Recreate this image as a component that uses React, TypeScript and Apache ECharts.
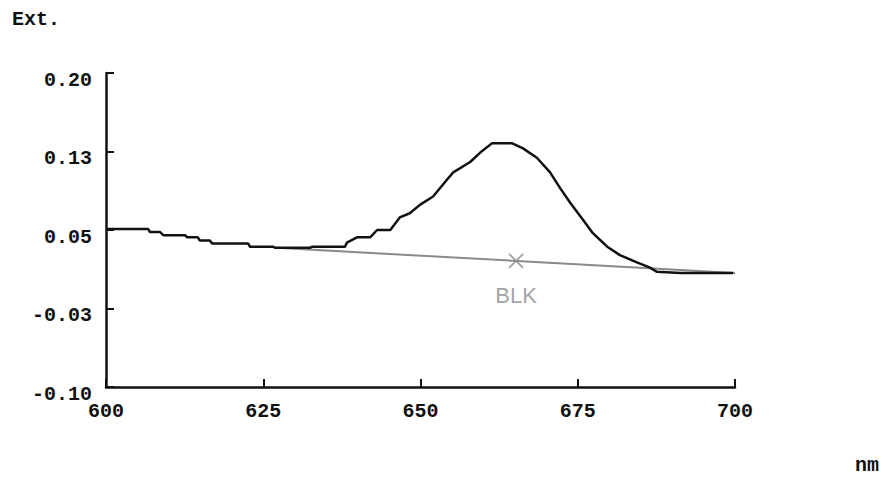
import React, { useEffect, useRef } from "react";
import * as echarts from "echarts";

const wavelengths = [
  600.2, 606.7, 607.0, 608.6, 609.1, 612.6, 612.9, 614.6, 614.9, 616.5, 616.9, 622.6,
  622.9, 626.6, 626.9, 632.4, 632.8, 638.0, 638.3, 639.9, 642.0, 643.1, 645.2, 646.7,
  648.3, 649.9, 652.0, 654.2, 655.2, 657.9, 659.5, 661.4, 664.5, 666.3, 668.5, 670.6,
  672.2, 673.8, 675.8, 677.4, 679.7, 681.7, 684.4, 686.5, 687.6, 691.3, 699.7,
];
const extinction = [
  0.051, 0.051, 0.048, 0.048, 0.045, 0.045, 0.043, 0.043, 0.040, 0.040, 0.037, 0.037,
  0.034, 0.034, 0.033, 0.033, 0.034, 0.034, 0.038, 0.043, 0.043, 0.050, 0.050, 0.062,
  0.066, 0.074, 0.082, 0.098, 0.105, 0.115, 0.124, 0.133, 0.133, 0.128, 0.119, 0.105,
  0.090, 0.076, 0.060, 0.047, 0.034, 0.026, 0.019, 0.014, 0.010, 0.009, 0.009,
];
const baselineX = [627, 700];
const baselineY = [0.033, 0.009];
const blankPoint = [665.2, 0.0205];
const yTickValues = [-0.1, -0.025, 0.05, 0.125, 0.2];
const yTickLabels = ["-0.10", "-0.03", "0.05", "0.13", "0.20"];
const xTickValues = [600, 625, 650, 675, 700];

export default function App() {
  const ref = useRef<HTMLDivElement>(null);
  useEffect(() => {
    if (!ref.current) return;
    const chart = echarts.init(ref.current, null, { renderer: "svg" });
    const labelFont = {
      fontFamily: "Liberation Mono",
      fontWeight: "bold" as const,
      fontSize: 20,
      color: "#111",
    };
    chart.setOption({
      animation: false,
      backgroundColor: "#fff",
      grid: { left: 106, top: 73, right: 156, bottom: 92 },
      graphic: [
        {
          type: "text",
          left: 12,
          top: 9,
          style: {
            text: "Ext.",
            fontFamily: "Liberation Mono",
            fontWeight: "bold",
            fontSize: 20,
            fill: "#111",
          },
        },
        {
          type: "text",
          left: 855,
          top: 455,
          style: {
            text: "nm",
            fontFamily: "Liberation Mono",
            fontWeight: "bold",
            fontSize: 20,
            fill: "#111",
          },
        },
      ],
      xAxis: {
        type: "value",
        min: 600,
        max: 700,
        interval: 25,
        splitLine: { show: false },
        axisLine: { onZero: false, lineStyle: { color: "#111", width: 2.5 } },
        axisTick: { inside: true, length: 8, lineStyle: { color: "#111", width: 2 } },
        axisLabel: {
          ...labelFont,
          margin: 14,
          showMinLabel: true,
          showMaxLabel: true,
          customValues: xTickValues,
        },
      },
      yAxis: {
        type: "value",
        min: -0.1,
        max: 0.2,
        splitLine: { show: false },
        axisLine: { show: true, onZero: false, lineStyle: { color: "#111", width: 2.5 } },
        axisTick: {
          show: true,
          inside: true,
          length: 8,
          lineStyle: { color: "#111", width: 2 },
          customValues: yTickValues,
        },
        axisLabel: {
          ...labelFont,
          margin: 14,
          verticalAlign: "top",
          lineHeight: 14,
          customValues: yTickValues,
          formatter: (v: number) => {
            let best = 0;
            yTickValues.forEach((t, i) => {
              if (Math.abs(t - v) < Math.abs(yTickValues[best] - v)) best = i;
            });
            return yTickLabels[best];
          },
        },
      },
      series: [
        {
          type: "line",
          data: baselineX.map((x, i) => [x, baselineY[i]]),
          symbol: "none",
          lineStyle: { color: "#8a8a8a", width: 2 },
          z: 1,
        },
        {
          type: "line",
          data: wavelengths.map((x, i) => [x, extinction[i]]),
          symbol: "none",
          lineStyle: { color: "#111", width: 2.5 },
          z: 2,
        },
        {
          type: "scatter",
          data: [blankPoint],
          symbol: "path://M0,0L10,10M10,0L0,10",
          symbolSize: 14,
          itemStyle: { color: "none", borderColor: "#8a8a8a", borderWidth: 1.8 },
          label: {
            show: true,
            position: "bottom",
            distance: 14,
            formatter: "BLK",
            fontFamily: "Liberation Sans",
            fontSize: 22,
            color: "#8a8a8a",
          },
          z: 3,
        },
      ],
    });
    return () => chart.dispose();
  }, []);
  return (
    <div
      ref={ref}
      style={{ position: "absolute", left: 0, top: 0, width: 891, height: 479 }}
    />
  );
}
